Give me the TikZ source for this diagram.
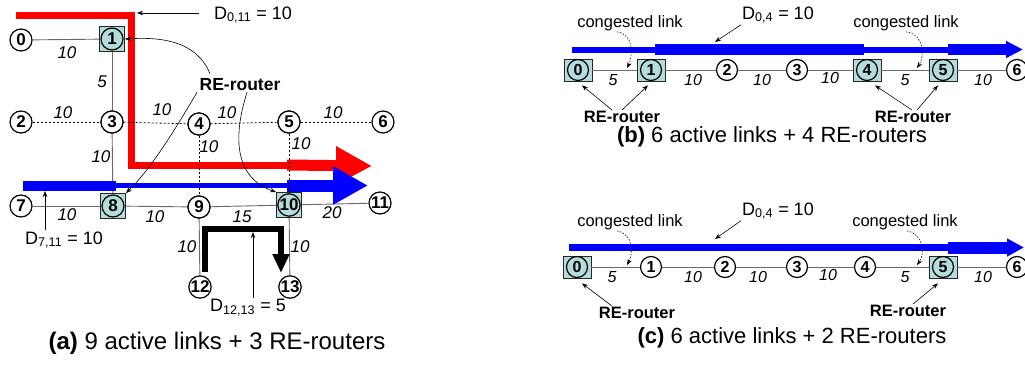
\documentclass[tikz,border=0pt]{standalone}
\usepackage{fontspec}
\setmainfont{Liberation Sans}
\usetikzlibrary{arrows.meta,calc}
\definecolor{teal0}{RGB}{180,220,220}
\definecolor{lnk}{RGB}{105,105,105}
\definecolor{myred}{RGB}{255,0,0}
\definecolor{myblue}{RGB}{0,0,255}
\begin{document}
\begin{tikzpicture}[x=1pt,y=-1pt,
  nd/.style={circle,draw=black,line width=1.2pt,fill=white,minimum size=22pt,inner sep=0pt,font=\fontsize{17}{17}\selectfont\bfseries},
  ndb/.style={nd,minimum size=21pt,font=\fontsize{16}{16}\selectfont\bfseries},
  rebox/.style={rectangle,draw=black!85,line width=0.8pt,fill=teal0,minimum width=25pt,minimum height=25pt,inner sep=0pt},
  reboxb/.style={rebox,minimum width=28pt,minimum height=22pt},
  link/.style={draw=lnk,line width=0.9pt},
  dlink/.style={draw=black,line width=0.8pt,dash pattern=on 2pt off 2pt},
  elab/.style={inner sep=0pt,font=\fontsize{17}{17}\selectfont\itshape},
  elabb/.style={inner sep=0pt,font=\fontsize{16}{16}\selectfont\itshape},
  dlab/.style={inner sep=1pt,font=\fontsize{18}{18}\selectfont},
  relab/.style={inner sep=1pt,font=\fontsize{17.5}{17.5}\selectfont\bfseries},
  reflab/.style={inner sep=1pt,font=\fontsize{16.5}{16.5}\selectfont\bfseries},
  clab/.style={inner sep=1pt,font=\fontsize{16.5}{16.5}\selectfont},
  capt/.style={inner sep=0pt,font=\fontsize{22}{22}\selectfont},
  ptr/.style={draw=black,line width=0.6pt,-{Stealth[length=6pt,width=4.5pt]}},
  cptr/.style={ptr,dash pattern=on 1.5pt off 1.5pt},
  line join=miter]
\useasboundingbox (0,0) rectangle (1025,367);

% ================= panel (a) =================
\node[nd] (a0) at (21,40) {0};
\node[rebox] (a1b) at (112,39) {};
\node[nd,fill=teal0] (a1) at (112,39) {1};
\node[nd] (a2) at (21,122) {2};
\node[nd] (a3) at (112,122) {3};
\node[nd] (a4) at (199,124) {4};
\node[nd] (a5) at (289,122) {5};
\node[nd] (a6) at (383,122) {6};
\node[nd] (a7) at (21,206) {7};
\node[rebox] (a8b) at (113,206) {};
\node[nd,fill=teal0] (a8) at (113,206) {8};
\node[nd] (a9) at (199,207) {9};
\node[rebox] (a10b) at (289,205) {};
\node[nd,fill=teal0] (a10) at (289,205) {10};
\node[nd] (a11) at (380,203) {11};
\node[nd] (a12) at (200,287) {12};
\node[nd] (a13) at (290,287) {13};

% solid links
\path[link] (a0) -- (a1b);
\path[link] (a1b) -- (a3);
\path[link] (a3) -- (a8b);
\path[link] (a7) -- (a8b);
\path[link] (a8b) -- (a9);
\path[link] (a9) -- (a10b);
\path[link] (a10b) -- (a11);
\path[link] (a9) -- (a12);
\path[link] (a10b) -- (a13);

% flows
\draw[myred,line width=7pt] (16,15.5) -- (131.5,15.5) -- (131.5,165) -- (289,165);
\draw[myred,line width=11pt,-{Triangle[length=36pt,width=36pt]}] (287,165) -- (372,166);
\draw[myblue,line width=10pt] (23,185.5) -- (116,185.5);
\draw[myblue,line width=5pt] (114,185.5) -- (289,185.5);
\draw[myblue,line width=12pt,-{Triangle[length=35pt,width=36pt]}] (287,185.5) -- (368,185.5);
\draw[black,line width=6pt,-{Triangle[length=19pt,width=16pt]}] (205,272) -- (205,229) -- (281,229) -- (281,273);

% dashed links
\path[dlink] (a2) -- (a3);
\path[dlink] (a3) -- (a4);
\path[dlink] (a4) -- (a5);
\path[dlink] (a5) -- (a6);
\path[dlink] (a4) -- (a9);
\path[dlink] (a5) -- (a10b);

% redraw nodes on top
\node[nd] at (a3) {3};
\node[nd] at (a4) {4};
\node[nd] at (a5) {5};
\node[nd] at (a9) {9};
\node[rebox] at (a8b) {};
\node[nd,fill=teal0] at (a8) {8};
\node[rebox] at (a10b) {};
\node[nd,fill=teal0] at (a10) {10};

% link labels
\node[elab] (la01) at (67,53) {10};
\node[elab] (la13) at (102,82) {5};
\node[elab] (la23) at (63,113) {10};
\node[elab] (la34) at (162,110) {10};
\node[elab] (la45) at (227,113) {10};
\node[elab] (la56) at (333,113) {10};
\node[elab] (la38) at (101,157) {10};
\node[elab] (la49) at (209,147) {10};
\node[elab] (la510) at (301,144) {10};
\node[elab] (la78) at (67,215) {10};
\node[elab] (la89) at (155,217) {10};
\node[elab] (la910) at (242,217) {15};
\node[elab] (la1011) at (332,213) {20};
\node[elab] (la912) at (187,247) {10};
\node[elab] (la1013) at (300,247) {10};

% demand labels
\node[dlab] (d011) at (253,15) {D\textsubscript{0,11} = 10};
\coordinate (c011) at (137,13);
\draw[ptr] ([xshift=-14pt,yshift=2pt]d011.west) -- (c011);
\node[dlab] (d711) at (64,240) {D\textsubscript{7,11} = 10};
\coordinate (c711) at (45,191);
\draw[ptr] (d711.north -| c711) -- (c711);
\node[dlab] (d1213) at (248,308) {D\textsubscript{12,13} = 5};
\coordinate (c1213) at (253,232);
\draw[ptr] (d1213.north -| c1213) -- (c1213);

% RE-router
\node[relab] (rea) at (240,85) {RE-router};
\draw[ptr] ([xshift=-30pt,yshift=4pt]rea.north) .. controls (196,40) and (160,37) .. (a1b.east);
\draw[ptr] ([xshift=-43pt]rea.south) .. controls (175,130) and (150,170) .. (a8b.north east);
\draw[ptr] ([xshift=7pt]rea.south) .. controls (232,140) and (236,178) .. (a10b.north west);

\node[capt,font=\fontsize{24}{24}\selectfont] (capa) at (217,343) {\textbf{(a)} 9 active links + 3 RE-routers};

% ================= panel (b) =================
\draw[myblue,line width=6pt] (572,49.5) -- (656,49.5);
\draw[myblue,line width=11pt] (655,49.5) -- (864,49.5);
\draw[myblue,line width=6pt] (863,49.5) -- (949,49.5);
\draw[myblue,line width=11pt,-{Triangle[length=17pt,width=16pt]}] (948,49.5) -- (1023,49.5);

\node[reboxb] (b0b) at (578,70) {};
\node[ndb,fill=teal0] (b0) at (578,70) {0};
\node[reboxb] (b1b) at (651,70) {};
\node[ndb,fill=teal0] (b1) at (651,70) {1};
\node[ndb] (b2) at (727,70) {2};
\node[ndb] (b3) at (797,70) {3};
\node[reboxb] (b4b) at (867,70) {};
\node[ndb,fill=teal0] (b4) at (867,70) {4};
\node[reboxb] (b5b) at (943,70) {};
\node[ndb,fill=teal0] (b5) at (943,70) {5};
\node[ndb] (b6) at (1017,70) {6};
\path[link] (b0b) -- (b1b);
\path[link] (b1b) -- (b2);
\path[link] (b2) -- (b3);
\path[link] (b3) -- (b4b);
\path[link] (b4b) -- (b5b);
\path[link] (b5b) -- (b6);
\node[elabb] (lb01) at (613,80) {5};
\node[elabb] (lb12) at (693,80) {10};
\node[elabb] (lb23) at (762,80) {10};
\node[elabb] (lb34) at (830,78) {10};
\node[elabb] (lb45) at (905,80) {5};
\node[elabb] (lb56) at (983,80) {10};

\node[clab] (cb1) at (630,23) {congested link};
\node[clab] (cb2) at (906,23) {congested link};
\coordinate (kb1) at (627,68);
\coordinate (kb2) at (917,68);
\draw[cptr] ([xshift=-13pt]cb1.south) .. controls (634,34) and (633,56) .. (kb1);
\draw[cptr] ([xshift=0pt]cb2.south) .. controls (924,34) and (925,56) .. (kb2);

\node[dlab] (d04b) at (778,15) {D\textsubscript{0,4} = 10};
\coordinate (cb04) at (715,42);
\draw[ptr] (d04b.south west) -- (cb04);

\node[reflab] (rb1) at (622,117) {RE-router};
\node[reflab] (rb2) at (913,117) {RE-router};
\draw[ptr] ([xshift=-10pt]rb1.north) -- ([xshift=4pt,yshift=-4pt]b0b.south);
\draw[ptr] (rb1.north) -- ([xshift=-3pt,yshift=-4pt]b1b.south);
\draw[ptr] ([xshift=-1pt]rb2.north) -- ([xshift=8pt,yshift=-4pt]b4b.south);
\draw[ptr] ([xshift=4pt]rb2.north) -- ([xshift=-5pt,yshift=-4pt]b5b.south);

\node[capt] (capb) at (772,137) {\textbf{(b)} 6 active links + 4 RE-routers};

% ================= panel (c) =================
\draw[myblue,line width=7pt] (569,247.5) -- (949,247.5);
\draw[myblue,line width=12pt,-{Triangle[length=17pt,width=17pt]}] (948,247.5) -- (1024,247.5);

\node[reboxb] (c0b) at (577,267) {};
\node[ndb,fill=teal0] (c0) at (577,267) {0};
\node[ndb] (c1) at (651,267) {1};
\node[ndb] (c2) at (725,267) {2};
\node[ndb] (c3) at (797,267) {3};
\node[ndb] (c4) at (865,267) {4};
\node[reboxb] (c5b) at (943,267) {};
\node[ndb,fill=teal0] (c5) at (943,267) {5};
\node[ndb] (c6) at (1017,267) {6};
\path[link] (c0b) -- (c1);
\path[link] (c1) -- (c2);
\path[link] (c2) -- (c3);
\path[link] (c3) -- (c4);
\path[link] (c4) -- (c5b);
\path[link] (c5b) -- (c6);
\node[elabb] (lc01) at (612,277) {5};
\node[elabb] (lc12) at (693,277) {10};
\node[elabb] (lc23) at (758,277) {10};
\node[elabb] (lc34) at (828,275) {10};
\node[elabb] (lc45) at (905,277) {5};
\node[elabb] (lc56) at (983,277) {10};

\node[clab] (cc1) at (630,222) {congested link};
\node[clab] (cc2) at (905,222) {congested link};
\coordinate (kc1) at (627,265);
\coordinate (kc2) at (917,265);
\draw[cptr] ([xshift=-13pt]cc1.south) .. controls (634,234) and (633,254) .. (kc1);
\draw[cptr] ([xshift=2pt]cc2.south) .. controls (924,234) and (925,254) .. (kc2);

\node[dlab] (d04c) at (778,211) {D\textsubscript{0,4} = 10};
\coordinate (cc04) at (715,239);
\draw[ptr] (d04c.south west) -- (cc04);

\node[reflab] (rc1) at (637,313) {RE-router};
\node[reflab] (rc2) at (908,311) {RE-router};
\draw[ptr] ([xshift=-25pt]rc1.north) -- ([xshift=5pt,yshift=-5pt]c0b.south);
\draw[ptr] ([xshift=5pt]rc2.north) -- ([xshift=-5pt,yshift=-5pt]c5b.south);

\node[capt] (capc) at (792,338) {\textbf{(c)} 6 active links + 2 RE-routers};
\end{tikzpicture}
\end{document}
